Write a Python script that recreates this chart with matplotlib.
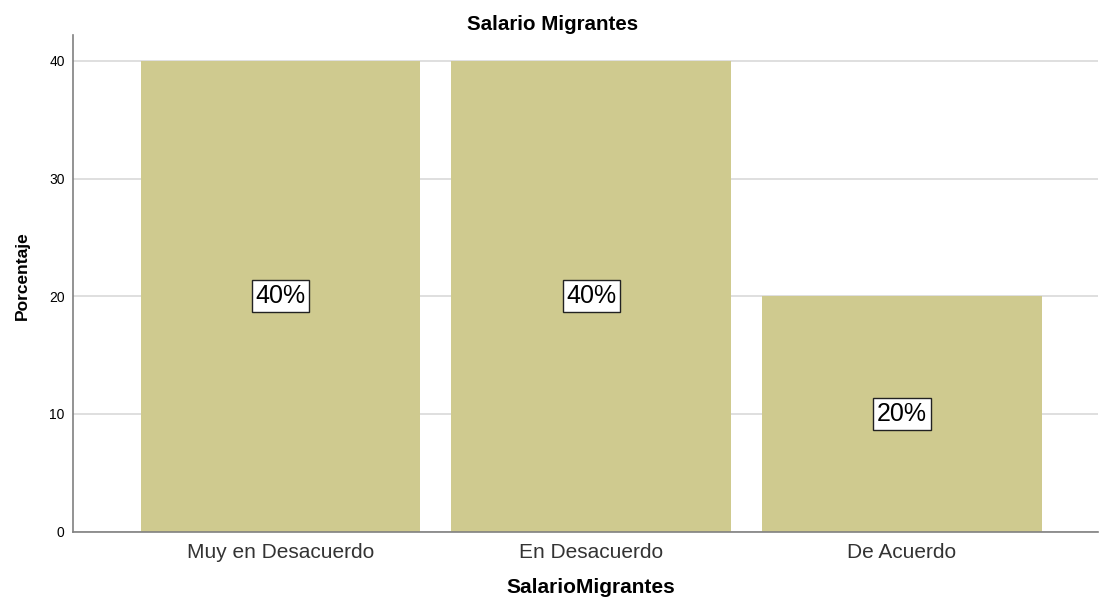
import matplotlib
matplotlib.use("Agg")
import matplotlib.pyplot as plt

# Data
categories = ["Muy en Desacuerdo", "En Desacuerdo", "De Acuerdo"]
porcentajes = [40, 40, 20]
bar_labels = ["40%", "40%", "20%"]
y_ticks = [0, 10, 20, 30, 40]

plt.rcParams['font.family'] = ['Liberation Sans', 'DejaVu Sans']

fig = plt.figure(figsize=(11, 6.01), dpi=100)
ax = fig.add_axes([0.0664, 0.1156, 0.998 - 0.0664, 0.9418 - 0.1156])

x = range(len(categories))
ax.bar(x, porcentajes, width=0.9, color="#CFCA8F", zorder=2)

for xi, val, lab in zip(x, porcentajes, bar_labels):
    ax.text(xi, val / 2, lab, ha="center", va="center", fontsize=18, zorder=3,
            bbox=dict(boxstyle="square,pad=0.15", facecolor="white",
                      edgecolor="#222222", linewidth=1))

ax.set_xlim(-0.668, 2.63)
ax.set_ylim(0, 42.2)
ax.set_yticks(y_ticks)
ax.set_xticks(list(x))
ax.set_xticklabels(categories, fontsize=15, color="#333333")
ax.tick_params(axis="y", labelsize=10, length=0, pad=6)
ax.tick_params(axis="x", length=0, pad=8)

ax.yaxis.grid(True, color="#D9D9D9", linewidth=1.2, zorder=1)
ax.set_axisbelow(True)

for side in ["top", "right"]:
    ax.spines[side].set_visible(False)
for side in ["left", "bottom"]:
    ax.spines[side].set_color("#808080")
    ax.spines[side].set_linewidth(1.2)

# title is centred on the figure, not the axes
fig.text(553 / 1100, 1 - 30 / 601, "Salario Migrantes", fontsize=14.8,
         fontweight="bold", ha="center", va="baseline")
ax.set_xlabel("SalarioMigrantes", fontsize=15, fontweight="bold", labelpad=12)
ax.set_ylabel("Porcentaje", fontsize=12.5, fontweight="bold", labelpad=14)
ax.xaxis.label.set_x(0.505)
ax.yaxis.label.set_y(0.515)

fig.savefig("out.png", dpi=100, facecolor="white")
